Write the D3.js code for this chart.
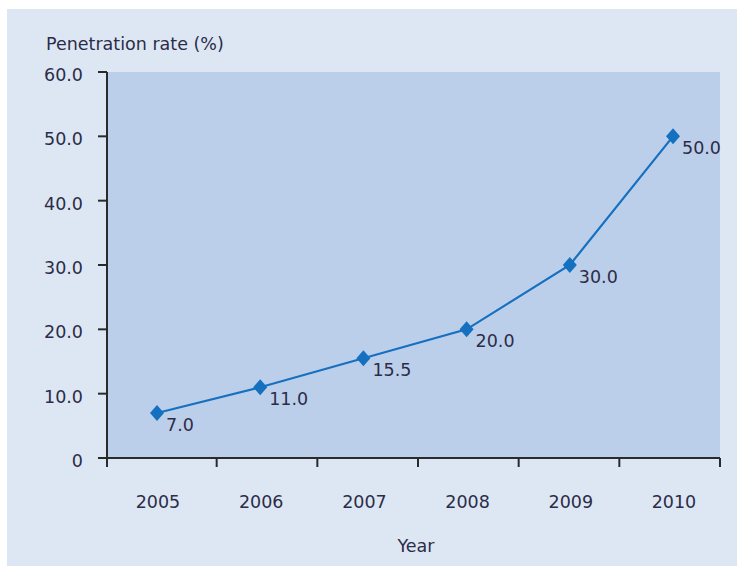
<!DOCTYPE html>
<html><head><meta charset="utf-8">
<script src="https://cdn.jsdelivr.net/npm/d3@7"></script>
<style>body{margin:0;background:#fff}svg{display:block}text{font-family:"DejaVu Sans",sans-serif;fill:#2c2c48}</style>
</head><body><svg id="c" width="743" height="572"></svg>
<script>
const years = ["2005","2006","2007","2008","2009","2010"];
const rates = [7.0, 11.0, 15.5, 20.0, 30.0, 50.0];
const yTicks = [0,10,20,30,40,50,60];

const svg = d3.select("#c");
const fs = 17.5;
svg.append("rect").attr("x",7).attr("y",9).attr("width",730).attr("height",557).attr("fill","#dde7f4");

const y = d3.scaleLinear().domain([0,60]).range([458,72]);
const xp = d3.scalePoint().domain(years).range([157,673]);
const xb = d3.scaleBand().domain(years).range([116,720]);

svg.append("rect").attr("x",107).attr("y",y(60)).attr("width",613).attr("height",y(0)-y(60)).attr("fill","#bccfea");

// y axis
const ya = svg.append("g");
ya.append("line").attr("x1",107).attr("x2",107).attr("y1",y(60)).attr("y2",y(0)+9).attr("stroke","#2a2a2a").attr("stroke-width",2);
ya.selectAll(".t").data(yTicks).join("line").attr("x1",98).attr("x2",107).attr("y1",d=>y(d)).attr("y2",d=>y(d)).attr("stroke","#2a2a2a").attr("stroke-width",2);
ya.selectAll("text").data(yTicks).join("text").attr("x",83).attr("y",d=>y(d)+9).attr("text-anchor","end").attr("font-size",fs)
  .text(d=>d===0?"0":d3.format(".1f")(d));

// x axis
const xa = svg.append("g");
xa.append("line").attr("x1",98).attr("x2",720).attr("y1",y(0)).attr("y2",y(0)).attr("stroke","#2a2a2a").attr("stroke-width",2);
const bounds = years.slice(1).map(d=>xb(d)).concat([xb.range()[1]]);
xa.selectAll(".t").data(bounds).join("line").attr("x1",d=>d).attr("x2",d=>d).attr("y1",y(0)).attr("y2",y(0)+9).attr("stroke","#2a2a2a").attr("stroke-width",2);
xa.selectAll("text").data(years).join("text").attr("x",d=>xp(d)+1).attr("y",508).attr("text-anchor","middle").attr("font-size",fs).text(d=>d);

svg.append("text").attr("x",46).attr("y",50).attr("font-size",fs).text("Penetration rate (%)");
svg.append("text").attr("x",416).attr("y",552).attr("text-anchor","middle").attr("font-size",fs).text("Year");

const data = years.map((d,i)=>({year:d,v:rates[i]}));
svg.append("path").datum(data).attr("fill","none").attr("stroke","#1570c0").attr("stroke-width",2.2)
  .attr("d",d3.line().x(d=>xp(d.year)).y(d=>y(d.v)));
svg.selectAll(".m").data(data).join("path").attr("fill","#1570c0")
  .attr("d",d=>{const cx=xp(d.year),cy=y(d.v);return `M${cx},${cy-8}L${cx+7},${cy}L${cx},${cy+8}L${cx-7},${cy}Z`;});
svg.selectAll(".lbl").data(data).join("text").attr("x",d=>xp(d.year)+9).attr("y",d=>y(d.v)+18).attr("font-size",fs).text(d=>d3.format(".1f")(d.v));
</script></body></html>
